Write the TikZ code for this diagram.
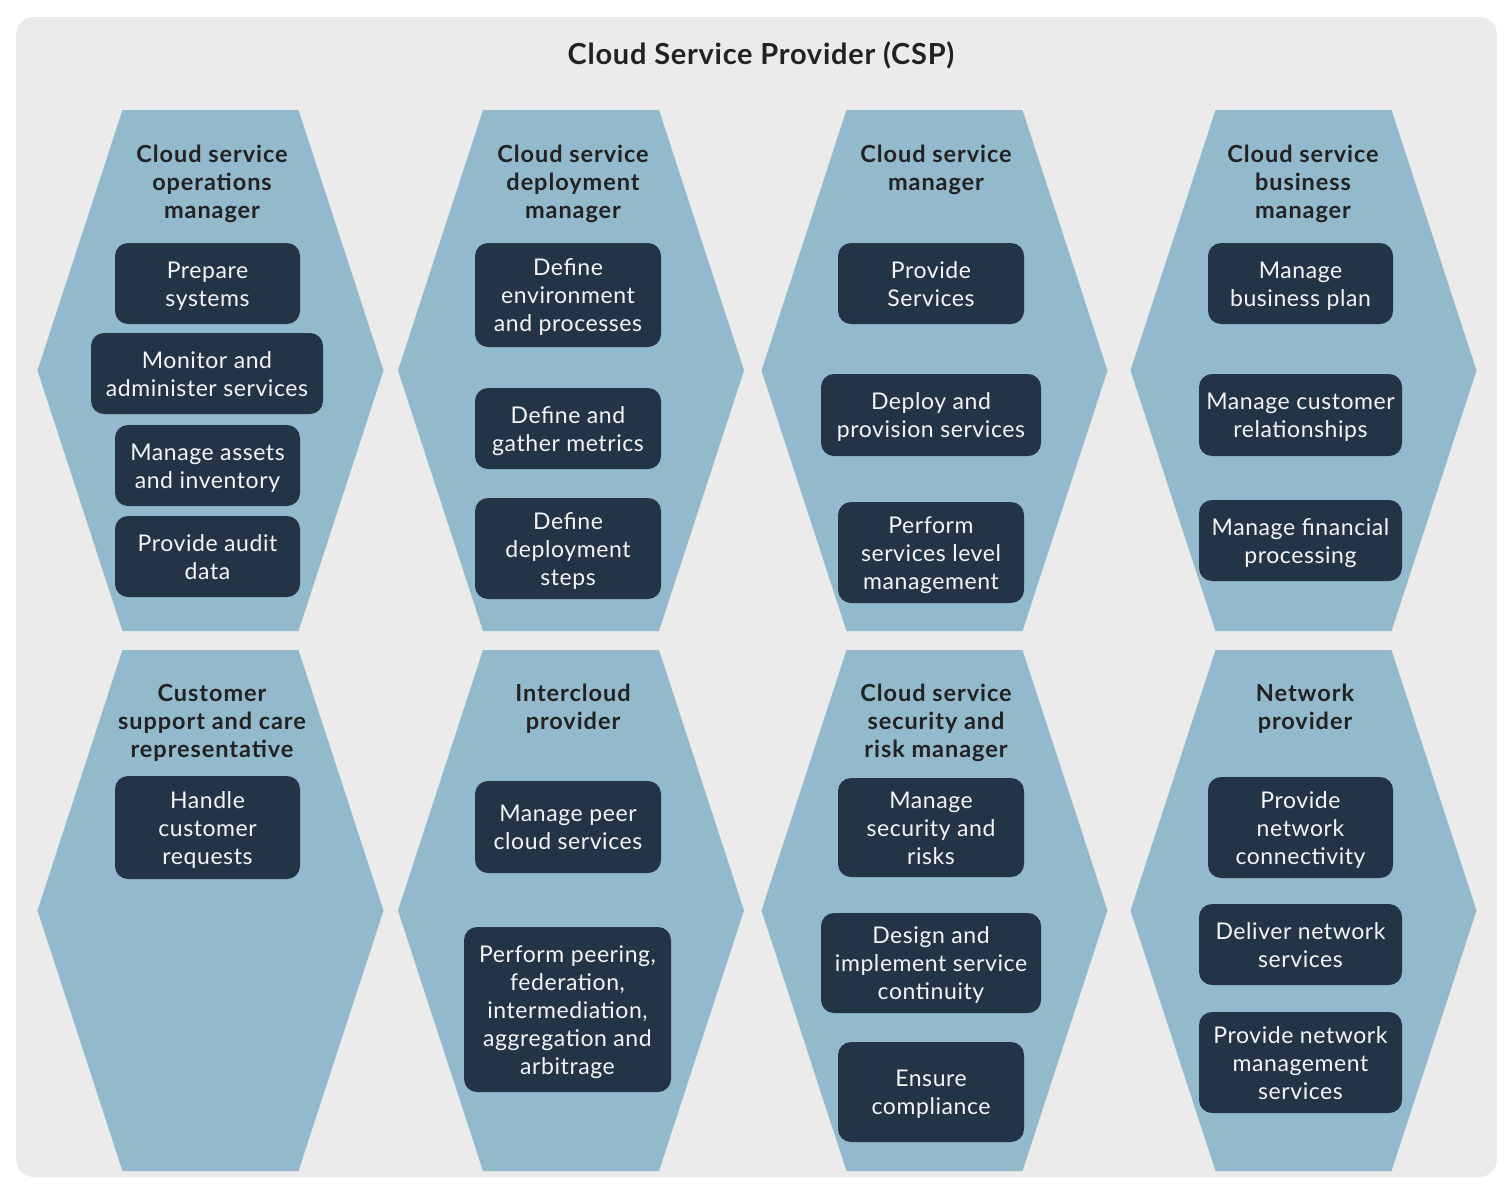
\documentclass[tikz,border=0pt]{standalone}
\usepackage{fontspec}
\setmainfont{Lato}
\definecolor{bgc}{HTML}{EBEBEB}
\definecolor{hexc}{HTML}{93B9CD}
\definecolor{boxc}{HTML}{243447}
\definecolor{boxtext}{HTML}{F4F4F4}
\definecolor{headc}{HTML}{222222}
\newcommand{\tl}[1]{\raisebox{-3pt}[\height][\depth]{\begin{tabular}{@{}c@{}}#1\end{tabular}}}
\tikzset{
  hexshape/.style={fill=hexc, draw=none},
  taskbox/.style={fill=boxc, draw=none, rounded corners=13pt,
    text=boxtext, inner sep=0pt, font=\fontsize{23}{28}\selectfont\addfontfeatures{LetterSpace=2.5}},
  rolehead/.style={align=center, text=headc, inner sep=0pt,
    font=\bfseries\fontsize{23.5}{28}\selectfont\addfontfeatures{LetterSpace=4}},
  maintitle/.style={text=headc, inner sep=0pt, font=\bfseries\fontsize{29}{32}\selectfont\addfontfeatures{LetterSpace=2.5}}
}
\newcommand{\hexat}[3]{%
  \fill[hexshape] (#1-88,#2-260.5) -- (#1+88,#2-260.5) -- (#1+173,#2) -- (#1+88,#2+260.5)
    -- (#1-88,#2+260.5) -- (#1-173,#2) -- cycle;
  \coordinate (#3) at (#1,#2);}
\begin{document}
\begin{tikzpicture}[x=1pt, y=-1pt]
\useasboundingbox (0,0) rectangle (1510,1186);
\fill[white] (0,0) rectangle (1510,1186);
\fill[bgc, rounded corners=18pt] (16,17) rectangle (1497,1177);
\node[maintitle] (title) at (761,55) {Cloud Service Provider (CSP)};
% hexagons
\hexat{210.5}{370.5}{h11}
\hexat{571}{370.5}{h12}
\hexat{934.5}{370.5}{h13}
\hexat{1303.5}{370.5}{h14}
\hexat{210.5}{910.5}{h21}
\hexat{571}{910.5}{h22}
\hexat{934.5}{910.5}{h23}
\hexat{1303.5}{910.5}{h24}
% headings row 1
\node[rolehead] (r11) at (212,183.5) {Cloud service\\operations\\manager};
\node[rolehead] (r12) at (573,183.5) {Cloud service\\deployment\\manager};
\node[rolehead] (r13) at (936,170) {Cloud service\\manager};
\node[rolehead] (r14) at (1303,183.5) {Cloud service\\business\\manager};
% headings row 2
\node[rolehead] (r21) at (212,723) {Customer\\support and care\\representative};
\node[rolehead] (r22) at (573,709) {Intercloud\\provider};
\node[rolehead] (r23) at (936,723) {Cloud service\\security and\\risk manager};
\node[rolehead] (r24) at (1305,709) {Network\\provider};
% column 1 row 1
\node[taskbox, minimum width=185pt, minimum height=81pt] (prep) at (207.5,283.5) {\tl{Prepare\\systems}};
\node[taskbox, minimum width=232pt, minimum height=81pt] (mon) at (207,373.5) {\tl{Monitor and\\administer services}};
\node[taskbox, minimum width=185pt, minimum height=81pt] (assets) at (207.5,465.5) {\tl{Manage assets\\and inventory}};
\node[taskbox, minimum width=185pt, minimum height=81pt] (audit) at (207.5,556.5) {\tl{Provide audit\\data}};
% column 2 row 1
\node[taskbox, minimum width=186pt, minimum height=104pt] (defenv) at (568,295) {\tl{Define\\environment\\and processes}};
\node[taskbox, minimum width=186pt, minimum height=81pt] (metrics) at (568,428.5) {\tl{Define and\\gather metrics}};
\node[taskbox, minimum width=186pt, minimum height=101pt] (steps) at (568,548.5) {\tl{Define\\deployment\\steps}};
% column 3 row 1
\node[taskbox, minimum width=186pt, minimum height=81pt] (provserv) at (931,283.5) {\tl{Provide\\Services}};
\node[taskbox, minimum width=220pt, minimum height=82pt] (deploy) at (931,415) {\tl{Deploy and\\provision services}};
\node[taskbox, minimum width=186pt, minimum height=101pt] (slm) at (931,552.5) {\tl{Perform\\services level\\management}};
% column 4 row 1
\node[taskbox, minimum width=185pt, minimum height=81pt] (bizplan) at (1300.5,283.5) {\tl{Manage\\business plan}};
\node[taskbox, minimum width=203pt, minimum height=82pt] (crm) at (1300.5,415) {\tl{Manage customer\\relationships}};
\node[taskbox, minimum width=203pt, minimum height=81pt] (fin) at (1300.5,540.5) {\tl{Manage financial\\processing}};
% row 2
\node[taskbox, minimum width=185pt, minimum height=103pt] (handle) at (207.5,827.5) {\tl{Handle\\customer\\requests}};
\node[taskbox, minimum width=186pt, minimum height=92pt] (peer) at (568,827) {\tl{Manage peer\\cloud services}};
\node[taskbox, minimum width=207pt, minimum height=165pt] (peering) at (567.5,1009.5) {\tl{Perform peering,\\federation,\\intermediation,\\aggregation and\\arbitrage}};
\node[taskbox, minimum width=186pt, minimum height=99pt] (secrisk) at (931,827.5) {\tl{Manage\\security and\\risks}};
\node[taskbox, minimum width=220pt, minimum height=100pt] (continuity) at (931,963) {\tl{Design and\\implement service\\continuity}};
\node[taskbox, minimum width=186pt, minimum height=100pt] (compliance) at (931,1092) {\tl{Ensure\\compliance}};
\node[taskbox, minimum width=185pt, minimum height=101pt] (netconn) at (1300.5,827.5) {\tl{Provide\\network\\connectivity}};
\node[taskbox, minimum width=203pt, minimum height=81pt] (delnet) at (1300.5,944.5) {\tl{Deliver network\\services}};
\node[taskbox, minimum width=203pt, minimum height=101pt] (netmgmt) at (1300.5,1062.5) {\tl{Provide network\\management\\services}};
\end{tikzpicture}
\end{document}
